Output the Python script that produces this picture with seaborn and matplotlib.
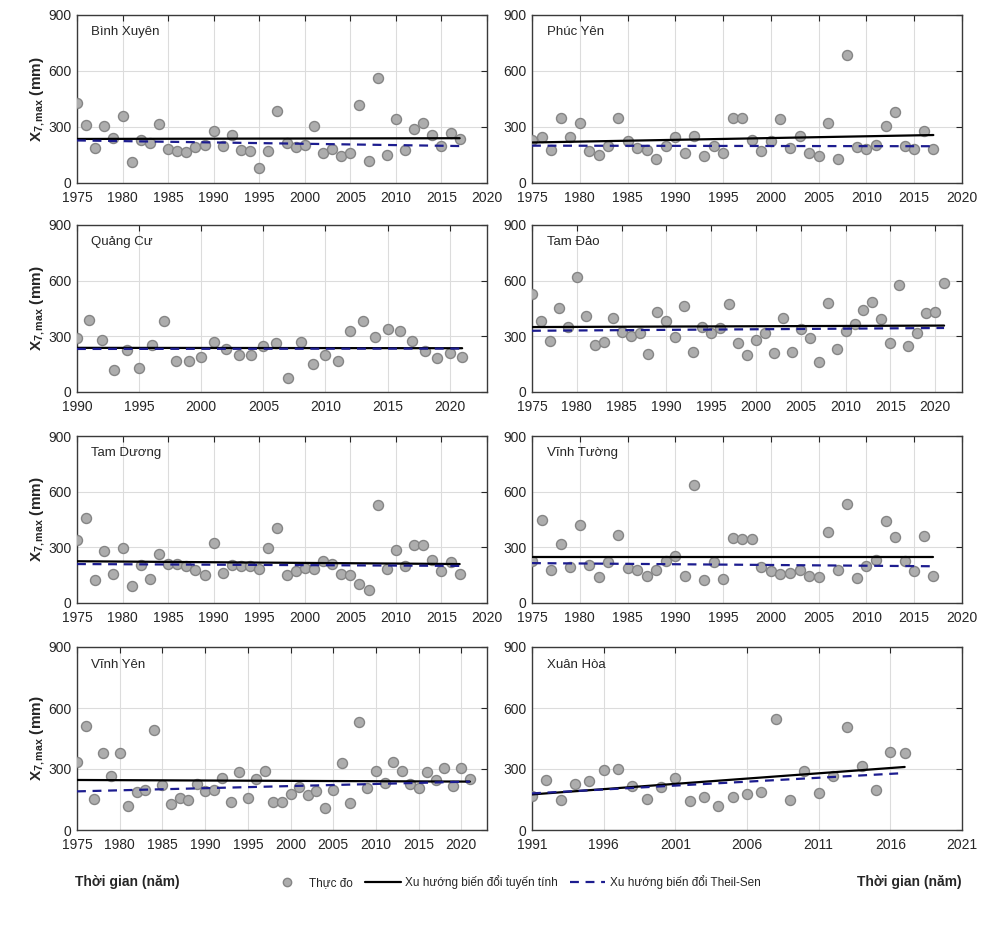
import numpy as np
import pandas as pd
import matplotlib
matplotlib.use("Agg")
import matplotlib.pyplot as plt
import seaborn as sns
from matplotlib.lines import Line2D

# ==========================================
# Global style (MATLAB-like look)
# ==========================================
sns.set_theme(style="white")
plt.rcParams['font.family'] = ['Liberation Sans', 'DejaVu Sans']
plt.rcParams['mathtext.fontset'] = 'custom'
plt.rcParams['mathtext.rm'] = 'Liberation Sans'
plt.rcParams['mathtext.bf'] = 'Liberation Sans:bold'
plt.rcParams['mathtext.it'] = 'Liberation Sans:italic'

# ==========================================
# Data (X7,max in mm)
# ==========================================
stations = ['Bình Xuyên', 'Phúc Yên', 'Quảng Cư', 'Tam Đảo',
            'Tam Dương', 'Vĩnh Tường', 'Vĩnh Yên', 'Xuân Hòa']

first_year = [1975, 1975, 1990, 1975, 1975, 1975, 1975, 1991]

binh_xuyen = [430, 313, 187, 305, 241, 357, 110, 233, 213, 316,
              183, 173, 165, 194, 202, 278, 198, 257, 178, 173,
              83, 170, 384, 213, 194, 203, 308, 159, 183, 143,
              162, 419, 117, 563, 149, 341, 175, 289, 321, 257,
              197, 270, 238]
phuc_yen = [233, 249, 178, 348, 249, 324, 170, 151, 197, 348,
            225, 186, 178, 130, 197, 244, 159, 254, 146, 197,
            162, 348, 348, 233, 170, 225, 341, 186, 254, 162,
            146, 324, 130, 686, 194, 181, 202, 308, 379, 198,
            183, 278, 183]
quang_cu = [290, 390, 280, 120, 225, 130, 255, 380, 168, 165,
            188, 272, 230, 198, 200, 248, 262, 75, 272, 153,
            200, 168, 328, 382, 298, 342, 328, 275, 222, 185,
            210, 190]
tam_dao = [526, 381, 277, 453, 349, 619, 410, 252, 272, 397,
           325, 304, 317, 204, 432, 381, 296, 465, 217, 349,
           317, 345, 474, 264, 199, 280, 320, 212, 397, 215,
           340, 293, 164, 482, 233, 330, 365, 442, 486, 394,
           264, 579, 248, 317, 426, 429, 587]
tam_duong = [340, 460, 125, 282, 157, 296, 90, 205, 130, 266,
             210, 210, 200, 180, 150, 322, 160, 205, 200, 200,
             185, 298, 405, 150, 175, 190, 185, 225, 210, 155,
             150, 100, 70, 530, 185, 285, 200, 310, 310, 230,
             170, 222, 155]
vinh_tuong = [227, 446, 179, 318, 195, 419, 206, 142, 222, 368,
              187, 179, 147, 179, 227, 254, 147, 638, 123, 219,
              128, 352, 347, 347, 192, 171, 155, 163, 179, 147,
              139, 382, 179, 531, 136, 198, 232, 440, 358, 227,
              174, 363, 147]
vinh_yen = [332, 512, 151, 378, 264, 381, 118, 188, 199, 494,
            220, 126, 159, 146, 224, 191, 199, 256, 139, 285,
            156, 253, 292, 138, 139, 178, 210, 172, 191, 110,
            199, 329, 134, 532, 207, 292, 232, 334, 292, 228,
            207, 284, 248, 305, 216, 305, 253]
xuan_hoa = [169, 244, 148, 228, 241, 294, 301, 214, 153, 212,
            257, 145, 164, 117, 161, 177, 185, 547, 148, 289,
            182, 265, 506, 317, 196, 386, 378]

series = [binh_xuyen, phuc_yen, quang_cu, tam_dao,
          tam_duong, vinh_tuong, vinh_yen, xuan_hoa]

# trend lines: value at first and last year
lin_start = [236, 217, 238, 350, 225, 250, 246, 175]
lin_end = [240, 257, 236, 358, 210, 250, 238, 310]
ts_start = [228, 200, 232, 330, 210, 215, 190, 180]
ts_end = [198, 197, 234, 345, 200, 198, 238, 280]

# axis ranges and ticks
x_lo = [1975, 1975, 1990, 1975, 1975, 1975, 1975, 1991]
x_hi = [2020, 2020, 2023, 2023, 2020, 2020, 2023, 2021]
tick_start = [1975, 1975, 1990, 1975, 1975, 1975, 1975, 1991]
tick_end = [2020, 2020, 2020, 2020, 2020, 2020, 2020, 2021]

legend_labels = ['Thực đo', 'Xu hướng biến đổi tuyến tính',
                 'Xu hướng biến đổi Theil-Sen']

# ==========================================
# Figure layout
# ==========================================
W, H = 984, 940
fig = plt.figure(figsize=(W / 100, H / 100), dpi=100)

col_x = [(77, 487), (532, 962)]
row_y = [(15, 183), (225, 392), (436, 603), (647, 830)]

DOT_FACE = '#adadad'
DOT_EDGE = '#858585'
TS_COLOR = '#1c1c8f'

for i, name in enumerate(stations):
    r, c = divmod(i, 2)
    x0, x1 = col_x[c]
    y0, y1 = row_y[r]
    ax = fig.add_axes([x0 / W, 1 - y1 / H, (x1 - x0) / W, (y1 - y0) / H])

    vals = series[i]
    years = np.arange(first_year[i], first_year[i] + len(vals))
    df = pd.DataFrame({'year': years, 'x7': vals})

    sns.scatterplot(data=df, x='year', y='x7', ax=ax, s=52,
                    color=DOT_FACE, edgecolor=DOT_EDGE, linewidth=1.0,
                    zorder=3)

    df_lin = pd.DataFrame({'year': [years[0], years[-1]],
                           'x7': [lin_start[i], lin_end[i]]})
    df_ts = pd.DataFrame({'year': [years[0], years[-1]],
                          'x7': [ts_start[i], ts_end[i]]})
    sns.lineplot(data=df_lin, x='year', y='x7', ax=ax, color='black',
                 linewidth=1.6, zorder=4)
    sns.lineplot(data=df_ts, x='year', y='x7', ax=ax, color=TS_COLOR,
                 linewidth=1.6, linestyle=(0, (4, 3)), zorder=4)

    ax.set_xlim(x_lo[i], x_hi[i])
    ax.set_ylim(0, 900)
    ax.set_xticks(np.arange(tick_start[i], tick_end[i] + 1, 5))
    ax.set_yticks([0, 300, 600, 900])
    ax.grid(True, color='#dcdcdc', linewidth=0.8)
    ax.set_axisbelow(True)
    ax.tick_params(direction='in', top=True, right=True, length=4,
                   width=0.8, labelsize=10, colors='#262626')
    ax.tick_params(axis='x', pad=6)
    ax.tick_params(axis='y', pad=4)
    for sp in ax.spines.values():
        sp.set_color('#3a3a3a')
        sp.set_linewidth(1.0)

    ax.set_xlabel('')
    if c == 0:
        ax.set_ylabel(r'X$_{\mathbf{7,max}}$ (mm)', fontsize=11,
                      fontweight='bold', labelpad=1)
    else:
        ax.set_ylabel('')
    ax.text(0.035, 0.9, name, transform=ax.transAxes, fontsize=9.5,
            color='#262626', va='center', ha='left')

# ==========================================
# Bottom labels and legend
# ==========================================
fig.text(75 / W, 1 - 882 / H, 'Thời gian (năm)', fontsize=10,
         fontweight='bold', ha='left', va='center')
fig.text(962 / W, 1 - 882 / H, 'Thời gian (năm)', fontsize=10,
         fontweight='bold', ha='right', va='center')

handles = [
    Line2D([], [], marker='o', linestyle='none', markersize=6,
           markerfacecolor=DOT_FACE, markeredgecolor=DOT_EDGE),
    Line2D([], [], color='black', linewidth=1.6),
    Line2D([], [], color=TS_COLOR, linewidth=1.6, linestyle=(0, (4, 3))),
]
fig.legend(handles, legend_labels, loc='center', ncol=3, frameon=False,
           bbox_to_anchor=(515 / W, 1 - 882 / H), fontsize=8.5,
           handlelength=3.0, columnspacing=1.0, handletextpad=0.4)

fig.savefig('out.png', dpi=100)
